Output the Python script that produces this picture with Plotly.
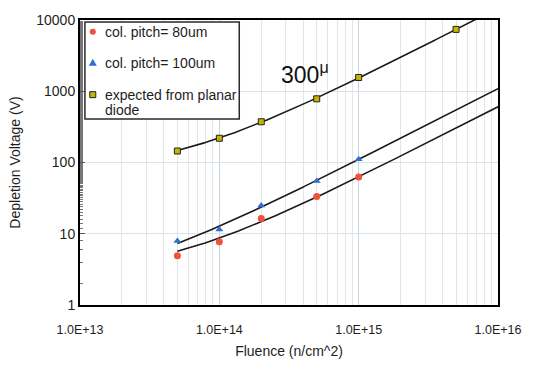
import numpy as np
import plotly.graph_objects as go

fluence = [5e13, 1e14, 2e14, 5e14, 1e15]
v_80um = [4.9, 7.7, 16.4, 33.4, 62.5]
v_100um = [7.9, 11.5, 25.0, 55.0, 111.0]
fluence_planar = [5e13, 1e14, 2e14, 5e14, 1e15, 5e15]
v_planar = [145, 219, 373, 783, 1560, 7380]

x_ticks = [1e13, 1e14, 1e15, 1e16]
x_ticklabels = ["1.0E+13", "1.0E+14", "1.0E+15", "1.0E+16"]
y_ticks = [1, 10, 100, 1000, 10000]
y_ticklabels = ["1", "10", "100", "1000", "10000"]

names = ["col. pitch= 80um", "col. pitch= 100um", "expected from planar", "diode"]
colors = ["#f0503c", "#2f6fd0", "#c8b400"]

FONT = "Liberation Sans, Arial, sans-serif"
TXT = "#1e1e1e"
fig = go.Figure()

grid = np.geomspace(5e13, 1e16, 300)

def fit_line(xs, ys):
    b, a = np.polyfit(np.array(xs), np.array(ys), 1)
    return a + b * grid

# linear trend lines
for xs, ys in [(fluence, v_80um), (fluence, v_100um), (fluence_planar, v_planar)]:
    fig.add_trace(go.Scatter(x=grid, y=fit_line(xs, ys), mode="lines",
                             line=dict(color="#1a1a1a", width=1.6),
                             showlegend=False, hoverinfo="skip"))

fig.add_trace(go.Scatter(x=fluence, y=v_80um, mode="markers", name=names[0],
                         showlegend=False,
                         marker=dict(symbol="circle", size=7, color=colors[0])))
fig.add_trace(go.Scatter(x=fluence, y=v_100um, mode="markers", name=names[1],
                         showlegend=False,
                         marker=dict(symbol="triangle-up", size=7, color=colors[1])))
fig.add_trace(go.Scatter(x=fluence_planar, y=v_planar, mode="markers", name=names[2],
                         showlegend=False,
                         marker=dict(symbol="square", size=6, color=colors[2],
                                     line=dict(color="#222222", width=1))))

fig.add_annotation(xref="paper", yref="paper", x=0.475, y=0.815,
                   xanchor="left", yanchor="middle", showarrow=False,
                   text="300<sup>μ</sup>",
                   font=dict(family=FONT, size=23, color="#111111"))

# ---- manual legend (box, symbols, texts) ----
lx0, lx1, ly0, ly1 = 0.0118, 0.381, 0.653, 0.9932
sym_x, txt_x = 0.0306, 0.054
rows = [0.9592, 0.8503, 0.7381, 0.6837]
fig.add_shape(type="rect", xref="paper", yref="paper", x0=lx0, x1=lx1, y0=ly0, y1=ly1,
              line=dict(color="#2a2a2a", width=1.5), fillcolor="white", layer="above")
fig.add_shape(type="circle", xref="paper", yref="paper", xsizemode="pixel", ysizemode="pixel",
              xanchor=sym_x, yanchor=rows[0], x0=-3, x1=3, y0=-3, y1=3,
              fillcolor=colors[0], line=dict(width=0), layer="above")
fig.add_shape(type="path", xref="paper", yref="paper", xsizemode="pixel", ysizemode="pixel",
              xanchor=sym_x, yanchor=rows[1], path="M -4,-3 L 4,-3 L 0,4 Z",
              fillcolor=colors[1], line=dict(width=0), layer="above")
fig.add_shape(type="rect", xref="paper", yref="paper", xsizemode="pixel", ysizemode="pixel",
              xanchor=sym_x, yanchor=rows[2], x0=-3, x1=3, y0=-3, y1=3,
              fillcolor=colors[2], line=dict(color="#222222", width=1), layer="above")
for name, ry in zip(names, rows):
    fig.add_annotation(xref="paper", yref="paper", x=txt_x, y=ry, xanchor="left",
                       yanchor="middle", showarrow=False, text=name,
                       font=dict(family=FONT, size=14, color=TXT))

x_minor = [m * 10.0 ** e for e in range(13, 16) for m in range(2, 10)]

fig.update_layout(
    width=534, height=369,
    margin=dict(l=80, r=29, t=13, b=62),
    paper_bgcolor="white", plot_bgcolor="white",
    font=dict(family=FONT, size=13, color=TXT),
    showlegend=False,
)

fig.update_xaxes(
    type="log", range=[13, 16],
    tickvals=x_ticks, ticktext=x_ticklabels,
    tickfont=dict(size=12.5),
    ticks="", ticklabelstandoff=12,
    showline=True, linecolor="black", linewidth=2, mirror=True,
    showgrid=True, gridcolor="#c6d4e2", gridwidth=1,
    minor=dict(tickvals=x_minor, showgrid=True, gridcolor="#e2e6eb", gridwidth=1, ticks=""),
    title=dict(text="Fluence (n/cm^2)", font=dict(size=14), standoff=10),
    zeroline=False,
)
fig.update_yaxes(
    type="log", range=[0, 4],
    tickvals=y_ticks, ticktext=y_ticklabels,
    tickfont=dict(size=14),
    ticks="inside", ticklen=5, tickcolor="#555555",
    showline=True, linecolor="black", linewidth=2, mirror=True,
    showgrid=True, gridcolor="#dbe2ea", gridwidth=1,
    minor=dict(ticks="inside", ticklen=3, tickcolor="#777777", showgrid=False),
    title=dict(text="Depletion Voltage (V)", font=dict(size=14), standoff=12),
    zeroline=False,
)

fig.write_html("out.html", config={"displayModeBar": False},
               post_script="document.body.style.margin='0';")
